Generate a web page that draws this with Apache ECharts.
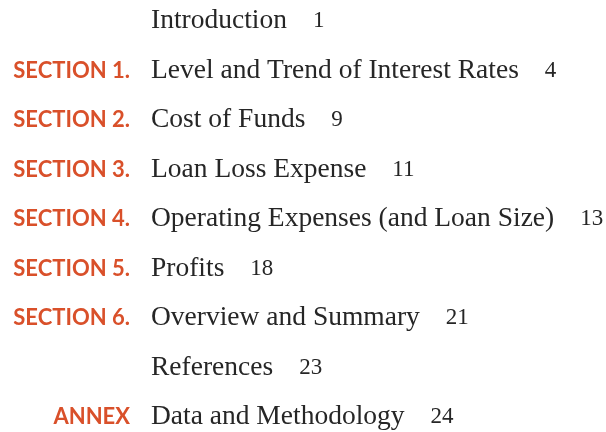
<!DOCTYPE html>
<html><head><meta charset="utf-8">
<script src="https://cdn.jsdelivr.net/npm/echarts@6/dist/echarts.min.js"></script>
<style>html,body{margin:0;padding:0;background:#fff}#c{width:606px;height:432px}</style>
</head><body><div id="c"></div>
<script>
var sections = ["", "SECTION 1.", "SECTION 2.", "SECTION 3.", "SECTION 4.", "SECTION 5.", "SECTION 6.", "", "ANNEX"];
var titles = ["Introduction", "Level and Trend of Interest Rates", "Cost of Funds", "Loan Loss Expense", "Operating Expenses (and Loan Size)", "Profits", "Overview and Summary", "References", "Data and Methodology"];
var pages = ["1", "4", "9", "11", "13", "18", "21", "23", "24"];
var rowIndex = titles.map(function(_, i){ return i; });

var chart = echarts.init(document.getElementById('c'), null, {renderer: 'canvas'});
chart.setOption({
  animation: false,
  grid: {left: 0, right: 0, top: 0, bottom: 0},
  xAxis: {type: 'value', min: 0, max: 606, show: false},
  yAxis: {type: 'value', min: -0.424, max: 8.303, inverse: true, show: false},
  series: [
    {
      type: 'scatter', symbolSize: 0, itemStyle: {opacity: 1},
      data: rowIndex.map(function(i){ return [130, i]; }),
      label: {
        show: true, position: 'left', distance: 0, opacity: 1,
        formatter: function(p){ return sections[p.dataIndex]; },
        fontFamily: 'Lato', fontWeight: 'bold', fontSize: 22, color: '#d9502a'
      }
    },
    {
      type: 'scatter', symbolSize: 0, itemStyle: {opacity: 1},
      data: rowIndex.map(function(i){ return [151, i]; }),
      label: {
        show: true, position: 'right', distance: 0, opacity: 1,
        formatter: function(p){ return '{t|' + titles[p.dataIndex] + '}{p|' + pages[p.dataIndex] + '}'; },
        rich: {
          t: {fontFamily: 'Liberation Serif', fontSize: 27.5, color: '#262626'},
          p: {fontFamily: 'Liberation Serif', fontSize: 23, color: '#262626', padding: [0, 0, 0, 26]}
        }
      }
    }
  ]
});
</script></body></html>
